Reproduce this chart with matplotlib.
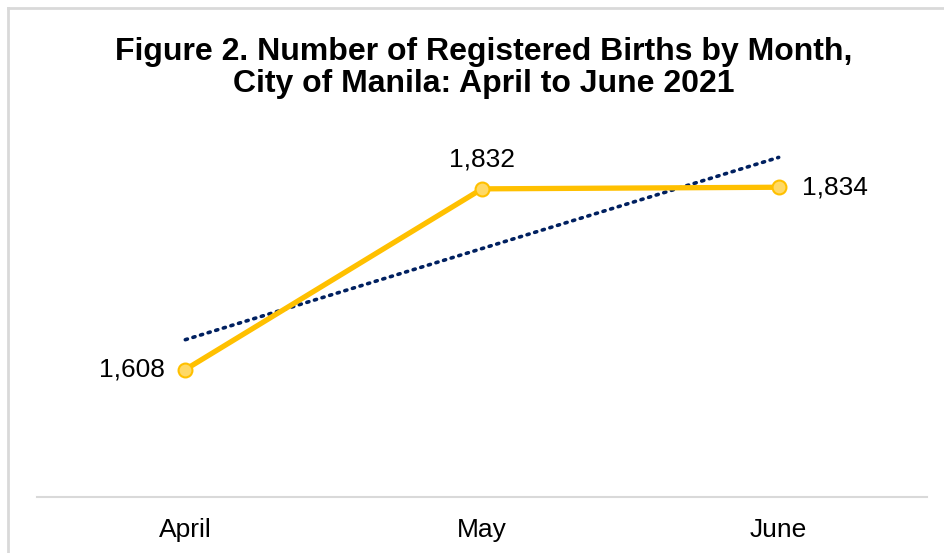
import matplotlib
matplotlib.use("Agg")
import matplotlib.pyplot as plt
import numpy as np
from matplotlib.lines import Line2D

months = ["April", "May", "June"]
births = [1608, 1832, 1834]
labels = ["1,608", "1,832", "1,834"]

plt.rcParams['font.family'] = ['Liberation Sans', 'DejaVu Sans']

fig = plt.figure(figsize=(9.44, 5.53), dpi=100)
ax = fig.add_axes([37/944, 1-497/553, (927-37)/944, (497-134)/553])

x = np.arange(1, len(months) + 1)
# linear trendline
coef = np.polyfit(x, births, 1)
xt = np.array([x[0], x[-1]])
ax.plot(xt, np.polyval(coef, xt), color="#002060", linestyle=(0, (0.6, 1.6)), linewidth=2.6,
        dash_capstyle="round", zorder=2)

ax.plot(x, births, color="#FFC000", linewidth=3.8, marker="o", markersize=10,
        markerfacecolor="#FFD966", markeredgecolor="#FFC000", markeredgewidth=1.5, zorder=3)

offsets = [(-14.5, 0, "right", "center"), (0, 16, "center", "baseline"), (17, 0, "left", "center")]
for xi, yi, lab, (dx, dy, ha, va) in zip(x, births, labels, offsets):
    ax.annotate(lab, (xi, yi), xytext=(dx, dy), textcoords="offset points",
                ha=ha, va=va, fontsize=19, color="#000000")

ax.set_xlim(0.5, 3.5)
ax.set_ylim(1450, 1900)
ax.set_xticks(x)
ax.set_xticklabels(months, fontsize=19)
ax.tick_params(axis="x", length=0, pad=15)
ax.set_yticks([])
for s in ["top", "right", "left"]:
    ax.spines[s].set_visible(False)
ax.spines["bottom"].set_color("#D9D9D9")
ax.spines["bottom"].set_linewidth(1.5)
ax.patch.set_alpha(0)

fig.text(484/944, 1-60/553, "Figure 2. Number of Registered Births by Month,",
         ha="center", va="baseline", fontsize=23, fontweight="bold")
fig.text(484/944, 1-92/553, "City of Manila: April to June 2021",
         ha="center", va="baseline", fontsize=23, fontweight="bold")

# figure border (cropped)
fig.add_artist(Line2D([8/944, 1], [1-8/553, 1-8/553], color="#D9D9D9", linewidth=2, transform=fig.transFigure))
fig.add_artist(Line2D([8/944, 8/944], [0, 1-8/553], color="#D9D9D9", linewidth=2, transform=fig.transFigure))

fig.savefig("out.png", dpi=100)
